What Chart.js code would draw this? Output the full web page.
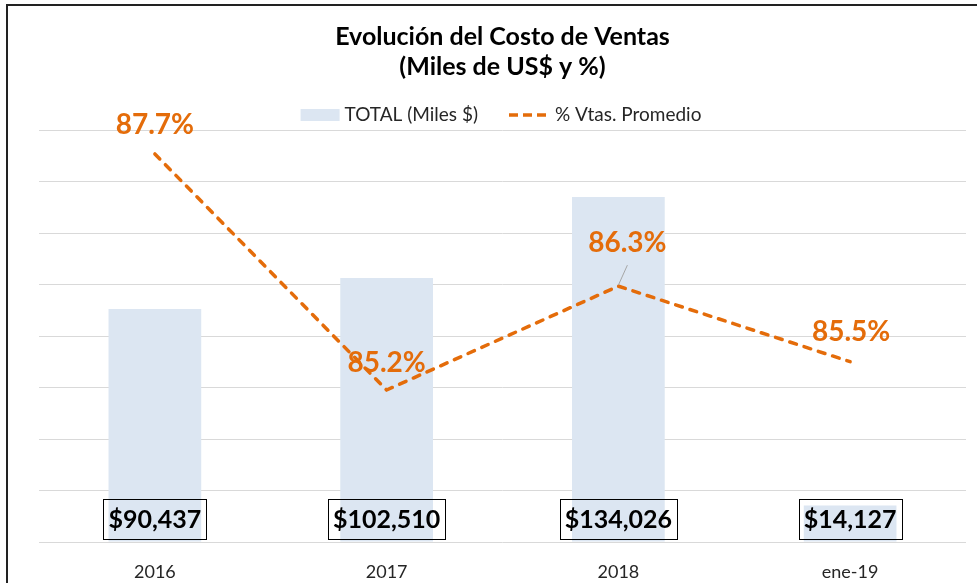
<!DOCTYPE html>
<html>
<head>
    <meta charset="utf-8">
    <title>Evolución del Costo de Ventas</title>
    <script src="https://cdn.jsdelivr.net/npm/chart.js"></script>
    <style>
        html, body { margin: 0; padding: 0; background: #fff; }
        .wrap { width: 977px; height: 583px; position: relative; }
    </style>
</head>
<body>
    <div class="wrap">
        <canvas id="costo-chart" width="977" height="583"></canvas>
    </div>

    <script>
        // data
        const categories = ['2016', '2017', '2018', 'ene-19'];
        const totalMiles = [90437, 102510, 134026, 14127];
        const pctVentas = [87.7, 85.2, 86.3, 85.5];
        const seriesNames = ['TOTAL (Miles $)', '% Vtas. Promedio'];
        const titleLines = ['Evolución del Costo de Ventas', '(Miles de US$ y %)'];

        const ORANGE = '#E46C0A';
        const BAR_BLUE = '#DCE6F2';
        const FONT = 'Lato, "Liberation Sans", sans-serif';

        // where the % labels were dragged to, relative to the point (px)
        const pctLabelShift = [[0, -29], [0, -27], [9, -43], [1, -30]];

        // frame line like the Excel chart border
        const framePlugin = {
            id: 'frame',
            beforeDraw(chart) {
                const ctx = chart.ctx;
                ctx.save();
                ctx.fillStyle = '#fff';
                ctx.fillRect(0, 0, chart.width, chart.height);
                ctx.strokeStyle = '#222';
                ctx.lineWidth = 2;
                ctx.beginPath();
                ctx.moveTo(7, chart.height + 2);
                ctx.lineTo(7, 5);
                ctx.lineTo(chart.width + 2, 5);
                ctx.stroke();
                ctx.restore();
            }
        };

        // legend drawn by hand (box for bars, dashes for the line)
        const legendPlugin = {
            id: 'excelLegend',
            afterDraw(chart) {
                const ctx = chart.ctx;
                const ds = chart.data.datasets;
                ctx.save();
                ctx.font = '19px ' + FONT;
                ctx.textBaseline = 'middle';
                const w1 = ctx.measureText(ds[0].label).width;
                const w2 = ctx.measureText(ds[1].label).width;
                const total = 39 + 5 + w1 + 31 + 37 + 9 + w2;
                let x = 501 - total / 2;
                const y = 115;
                ctx.fillStyle = ds[0].backgroundColor;
                ctx.fillRect(x, y - 6, 39, 12);
                x += 44;
                ctx.fillStyle = '#262626';
                ctx.fillText(ds[0].label, x, y);
                x += w1 + 31;
                ctx.strokeStyle = ds[1].borderColor;
                ctx.lineWidth = 3.5;
                ctx.setLineDash([9, 5]);
                ctx.beginPath();
                ctx.moveTo(x, y);
                ctx.lineTo(x + 37, y);
                ctx.stroke();
                ctx.setLineDash([]);
                x += 46;
                ctx.fillText(ds[1].label, x, y);
                ctx.restore();
            }
        };

        // value labels: boxed $ at bar base, orange % above line points
        const labelPlugin = {
            id: 'valueLabels',
            afterDatasetsDraw(chart) {
                const ctx = chart.ctx;
                ctx.save();
                ctx.textAlign = 'center';
                ctx.textBaseline = 'middle';

                const bars = chart.getDatasetMeta(0).data;
                ctx.font = 'bold 25px ' + FONT;
                bars.forEach((bar, i) => {
                    const txt = '$' + totalMiles[i].toLocaleString('en-US');
                    const w = ctx.measureText(txt).width + 10;
                    const cy = bar.base - 23;
                    ctx.strokeStyle = '#000';
                    ctx.lineWidth = 1;
                    ctx.strokeRect(Math.round(bar.x - w / 2) + 0.5, Math.round(cy - 20) + 0.5, Math.round(w), 40);
                    ctx.fillStyle = '#000';
                    ctx.fillText(txt, bar.x, cy + 1);
                });

                const pts = chart.getDatasetMeta(1).data;
                ctx.font = 'bold 28px ' + FONT;
                pts.forEach((p, i) => {
                    const [dx, dy] = pctLabelShift[i];
                    const lx = p.x + dx, ly = p.y + dy;
                    if (dy < -35) {
                        // leader line
                        ctx.strokeStyle = '#A6A6A6';
                        ctx.lineWidth = 1;
                        ctx.beginPath();
                        ctx.moveTo(p.x, p.y - 1);
                        ctx.lineTo(lx, ly + 22);
                        ctx.stroke();
                    }
                    ctx.fillStyle = ORANGE;
                    ctx.fillText(pctVentas[i].toFixed(1) + '%', lx, ly);
                });
                ctx.restore();
            }
        };

        new Chart(document.getElementById('costo-chart'), {
            type: 'bar',
            data: {
                labels: categories,
                datasets: [{
                    type: 'bar',
                    label: seriesNames[0],
                    data: totalMiles,
                    backgroundColor: BAR_BLUE,
                    borderWidth: 0,
                    categoryPercentage: 1,
                    barPercentage: 0.4,
                    yAxisID: 'y',
                    order: 1
                }, {
                    type: 'line',
                    label: seriesNames[1],
                    data: pctVentas,
                    borderColor: ORANGE,
                    borderWidth: 3.5,
                    borderDash: [7, 8],
                    borderCapStyle: 'round',
                    pointRadius: 0,
                    tension: 0,
                    fill: false,
                    yAxisID: 'y2',
                    order: 0
                }]
            },
            options: {
                responsive: false,
                animation: false,
                layout: { padding: { left: 39, right: 11, top: 0, bottom: 0 } },
                plugins: {
                    legend: { display: false },
                    tooltip: { enabled: false },
                    title: {
                        display: true,
                        text: titleLines,
                        color: '#000',
                        font: { family: FONT, size: 25, weight: 'bold', lineHeight: 1.2 },
                        padding: { top: 22, bottom: 48 }
                    }
                },
                scales: {
                    x: {
                        grid: { display: false, drawTicks: false },
                        border: { display: false },
                        ticks: {
                            color: '#262626',
                            font: { family: FONT, size: 18 },
                            padding: 19
                        },
                        afterFit(scale) { scale.height = 41; }
                    },
                    y: {
                        min: 0,
                        max: 160000,
                        ticks: { display: false, stepSize: 20000 },
                        grid: { color: '#D9D9D9', lineWidth: 1, drawTicks: false },
                        border: { display: false }
                    },
                    y2: {
                        display: false,
                        min: 83.59,
                        max: 87.954
                    }
                }
            },
            plugins: [framePlugin, legendPlugin, labelPlugin]
        });
    </script>
</body>
</html>
